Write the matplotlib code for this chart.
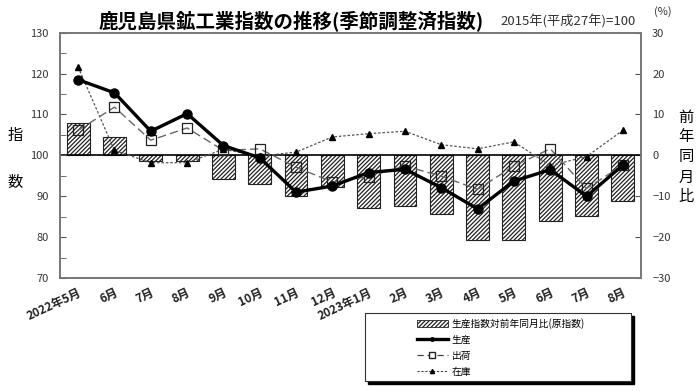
import numpy as np
import matplotlib
matplotlib.use("Agg")
import matplotlib.pyplot as plt
from matplotlib.patches import Patch, Rectangle
from matplotlib.lines import Line2D

plt.rcParams['font.family'] = ['Noto Sans CJK JP', 'DejaVu Sans']
plt.rcParams['hatch.linewidth'] = 0.9

months = ['2022年5月', '6月', '7月', '8月', '9月', '10月', '11月', '12月',
          '2023年1月', '2月', '3月', '4月', '5月', '6月', '7月', '8月']
# 前年同月比(%) 原指数
yoy = [7.9, 4.6, -1.5, -1.5, -5.7, -6.9, -9.9, -7.7,
       -12.8, -12.4, -14.3, -20.8, -20.8, -16.1, -14.8, -11.2]
# 季節調整済指数
production = [118.5, 115.3, 105.9, 110.2, 102.4, 99.4, 91.0, 92.5,
              95.8, 96.6, 92.1, 86.9, 93.7, 96.5, 90.0, 97.6]
shipment = [106.1, 111.8, 103.7, 106.7, 101.2, 101.6, 97.1, 93.5,
            94.8, 97.4, 94.9, 91.7, 97.4, 101.6, 91.9, 97.6]
inventory = [121.6, 101.2, 98.2, 98.2, 101.5, 99.8, 100.8, 104.5,
             105.3, 105.9, 102.6, 101.6, 103.3, 97.5, 99.7, 106.1]

x = np.arange(len(months))

fig = plt.figure(figsize=(7, 3.91), dpi=100)
ax1 = fig.add_axes([60/700, 1-278/391, 581/700, (278-32.7)/391])
ax2 = ax1.twinx()

# bars on the right axis, lines on top
ax2.bar(x, yoy, width=0.63, color='white', edgecolor='#222222',
        hatch='////////', linewidth=0.8)
ax2.set_ylim(-30, 30)
ax2.set_yticks(np.arange(-30, 31, 10))

ax1.set_zorder(ax2.get_zorder() + 1)
ax1.patch.set_visible(False)

ax1.axhline(100, color='black', lw=1.2, zorder=1)
ax1.plot(x, inventory, color='#555555', ls=(0, (2, 1.5)), lw=0.9,
         marker='^', ms=4.5, mfc='black', mec='black', zorder=3)
ax1.plot(x, shipment, color='#666666', ls=(0, (6, 3)), lw=1.0,
         marker='s', ms=7, mfc='none', mec='#222222', mew=0.9, zorder=4)
ax1.plot(x, production, color='black', lw=2.4,
         marker='o', ms=6.5, zorder=5)

ax1.set_xlim(-0.5, len(months) - 0.5)
ax1.set_ylim(70, 130)
ax1.set_yticks(np.arange(70, 131, 10))
ax1.set_yticks(np.arange(75, 130, 10), minor=True)

for ax in (ax1, ax2):
    for s in ax.spines.values():
        s.set_color('#777777')
        s.set_linewidth(1.2)
ax1.tick_params(axis='y', which='both', direction='in', length=4,
                color='#555555', labelsize=8, labelcolor='#333333', pad=8)
ax2.tick_params(axis='y', direction='in', length=4, color='#555555',
                labelsize=8, labelcolor='#333333', pad=8)
ax1.set_xticks(x)
ax1.set_xticklabels(months, rotation=25, ha='right', va='top',
                    rotation_mode='anchor', fontsize=8.5, fontweight='bold',
                    color='#222222')
ax1.tick_params(axis='x', length=0, pad=6)

fig.text(291/700, 1-21/391, '鹿児島県鉱工業指数の推移(季節調整済指数)',
         fontsize=14, fontweight='bold', ha='center', va='center')
fig.text(568/700, 1-22/391, '2015年(平成27年)=100', fontsize=9.5,
         ha='center', va='center', color='#333333')
fig.text(663/700, 1-12/391, '(%)', fontsize=8, ha='center', va='center',
         color='#333333')
fig.text(15/700, 1-135/391, '指', fontsize=11, ha='center', va='center')
fig.text(15/700, 1-182/391, '数', fontsize=11, ha='center', va='center')
for i, ch in enumerate('前年同月比'):
    fig.text(686/700, 1-(117+20*i)/391, ch, fontsize=11,
             ha='center', va='center')

# legend box with black shadow
lx0, ly0, lw, lh = 365/700, 1-381/391, 266/700, 68/391
fig.patches.append(Rectangle((lx0+3/700, ly0-3/391), lw, lh,
                             transform=fig.transFigure, color='black',
                             zorder=0))
fig.patches.append(Rectangle((lx0, ly0), lw, lh, transform=fig.transFigure,
                             facecolor='white', edgecolor='#333333',
                             lw=0.8, zorder=1))
handles = [
    Patch(facecolor='white', edgecolor='#222222', hatch='////////', lw=0.6),
    Line2D([], [], color='black', lw=2.4, marker='o', ms=2.5),
    Line2D([], [], color='#444444', ls=(0, (5, 3)), lw=0.9,
           marker='s', ms=4, mfc='white', mec='#222222'),
    Line2D([], [], color='#444444', ls=(0, (2, 1.5)), lw=0.8,
           marker='^', ms=3, mfc='black', mec='black'),
]
labels = ['生産指数対前年同月比(原指数)', '生産', '出荷', '在庫']
leg = fig.legend(handles, labels, loc='upper left',
                 bbox_to_anchor=(410/700, 1-311/391), frameon=False,
                 fontsize=7, handlelength=3.2, handleheight=0.7,
                 labelspacing=0.62, handletextpad=0.4, borderpad=0.2)
leg.set_zorder(2)

fig.savefig('out.png', dpi=100)
